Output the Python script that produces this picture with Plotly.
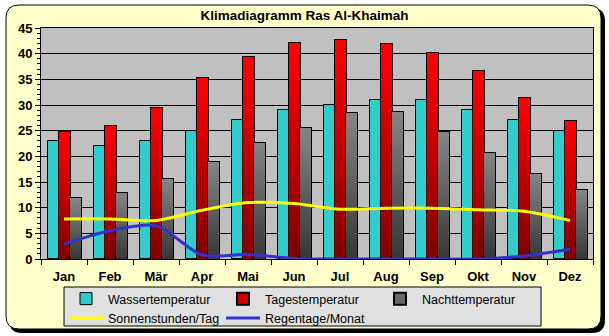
import plotly.graph_objects as go

# Monthly climate values for Ras Al-Khaimah
months = ["Jan", "Feb", "Mär", "Apr", "Mai", "Jun", "Jul", "Aug", "Sep", "Okt", "Nov", "Dez"]
wassertemperatur = [23, 22, 23, 25, 27, 29, 30, 31, 31, 29, 27, 25]
tagestemperatur = [24.7, 25.9, 29.4, 35.2, 39.3, 42.1, 42.6, 41.9, 40.1, 36.6, 31.4, 26.8]
nachttemperatur = [11.8, 12.8, 15.5, 18.9, 22.6, 25.5, 28.4, 28.6, 24.7, 20.6, 16.5, 13.4]
sonnenstunden = [7.8, 7.8, 7.5, 9.5, 11.0, 10.8, 9.7, 9.9, 9.9, 9.6, 9.3, 7.5]
regentage = [2.9, 5.5, 6.5, 0.8, 0.9, 0.1, 0, 0, 0, 0, 0.6, 1.9]

# layout geometry (pixels)
FIG_W, FIG_H = 609, 336
L, R, T, B = 41, 16, 28, 77
PW, PH = FIG_W - L - R, FIG_H - T - B

BAR_W = 0.24
OFFSETS = (-0.355, -0.115, 0.125)
N_SLICES = 30


def px(x):
    return (x - L) / PW


def py(y):
    return (T + PH - y) / PH


def rounded_box(x0, y0, x1, y1, r):
    return (
        f"M {px(x0 + r)},{py(y0)} L {px(x1 - r)},{py(y0)} "
        f"Q {px(x1)},{py(y0)} {px(x1)},{py(y0 + r)} L {px(x1)},{py(y1 - r)} "
        f"Q {px(x1)},{py(y1)} {px(x1 - r)},{py(y1)} L {px(x0 + r)},{py(y1)} "
        f"Q {px(x0)},{py(y1)} {px(x0)},{py(y1 - r)} L {px(x0)},{py(y0 + r)} "
        f"Q {px(x0)},{py(y0)} {px(x0 + r)},{py(y0)} Z"
    )


def mix(c0, c1, t):
    return "rgb({},{},{})".format(*[round(a + (b - a) * t) for a, b in zip(c0, c1)])


fig = go.Figure()

# water temperature: plain cyan bars
fig.add_trace(go.Bar(
    x=months, y=wassertemperatur, name="Wassertemperatur",
    width=BAR_W, offset=OFFSETS[0],
    marker=dict(color="#33CCCC", line=dict(color="black", width=1)),
    legendrank=1,
))


def gradient_bars(values, name, offset, bottom, top, rank):
    # outline underneath, then vertical gradient built from stacked slices
    fig.add_trace(go.Bar(
        x=months, y=values, name=name, width=BAR_W, offset=offset,
        marker=dict(color=mix(bottom, top, 0.6), line=dict(color="black", width=2)),
        legendrank=rank,
    ))
    for k in range(N_SLICES):
        fig.add_trace(go.Bar(
            x=months,
            y=[v / N_SLICES for v in values],
            base=[v * k / N_SLICES for v in values],
            width=BAR_W, offset=offset,
            marker=dict(color=mix(bottom, top, k / (N_SLICES - 1)), line=dict(width=0)),
            showlegend=False, hoverinfo="skip",
        ))


gradient_bars(tagestemperatur, "Tagestemperatur", OFFSETS[1], (128, 0, 0), (255, 0, 0), 2)
gradient_bars(nachttemperatur, "Nachttemperatur", OFFSETS[2], (56, 56, 56), (132, 132, 132), 3)

fig.add_trace(go.Scatter(
    x=months, y=sonnenstunden, name="Sonnenstunden/Tag", mode="lines",
    line=dict(color="#FFFF00", width=3, shape="spline", smoothing=0.8),
    legendrank=4,
))
fig.add_trace(go.Scatter(
    x=months, y=regentage, name="Regentage/Monat", mode="lines",
    line=dict(color="#3333CC", width=3, shape="spline", smoothing=0.8),
    legendrank=5,
))

shapes = [
    # drop shadow and cream frame
    dict(type="path", xref="paper", yref="paper", layer="below",
         path=rounded_box(9, 8, 605, 333, 13), fillcolor="black", line=dict(width=0)),
    dict(type="path", xref="paper", yref="paper", layer="below",
         path=rounded_box(6, 5, 601, 329, 13), fillcolor="#FFFFCC",
         line=dict(color="black", width=1)),
    # plot area background
    dict(type="rect", xref="paper", yref="paper", layer="below",
         x0=0, x1=1, y0=0, y1=1, fillcolor="#C0C0C0", line=dict(width=0)),
    # legend box
    dict(type="rect", xref="paper", yref="paper", layer="below",
         x0=px(64), x1=px(541), y0=py(287), y1=py(326),
         fillcolor="#E0E0E0", line=dict(color="black", width=1)),
]

bold = dict(family="Liberation Sans, Arial, sans-serif", size=13, color="black", weight="bold")

fig.update_layout(
    width=FIG_W, height=FIG_H,
    margin=dict(l=L, r=R, t=T, b=B, pad=0, autoexpand=False),
    paper_bgcolor="white", plot_bgcolor="rgba(0,0,0,0)",
    barmode="overlay", bargap=0,
    shapes=shapes,
    title=dict(text="Klimadiagramm Ras Al-Khaimah", x=0.5, xref="container",
               xanchor="center", y=1 - 15 / FIG_H, yref="container", yanchor="middle",
               font=dict(family="Liberation Sans, Arial, sans-serif", size=13.5,
                         color="black", weight="bold")),
    showlegend=True,
    legend=dict(
        orientation="h", xref="container", yref="container",
        x=64 / FIG_W, xanchor="left", y=1 - 284 / FIG_H, yanchor="top",
        bgcolor="rgba(0,0,0,0)", borderwidth=0,
        entrywidth=108, entrywidthmode="pixels",
        font=dict(family="Liberation Sans, Arial, sans-serif", size=12.5, color="black"),
        tracegroupgap=0, itemwidth=34,
    ),
    xaxis=dict(
        type="category", range=[-0.5, 11.5], tickfont=bold, automargin=False,
        showline=True, linecolor="black", linewidth=1, mirror=True,
        ticks="outside", tickson="boundaries", ticklen=5, tickcolor="black",
        ticklabelstandoff=5,
        showgrid=False, zeroline=False, fixedrange=True,
    ),
    yaxis=dict(
        range=[0, 45], dtick=5, tickfont=bold, automargin=False,
        showline=True, linecolor="black", linewidth=1, mirror=True,
        ticks="outside", ticklen=5, tickcolor="black",
        minor=dict(dtick=1, ticks="outside", ticklen=3, tickcolor="black", showgrid=False),
        showgrid=True, gridcolor="black", gridwidth=1, zeroline=False, fixedrange=True,
    ),
)

fig.write_html("out.html")
